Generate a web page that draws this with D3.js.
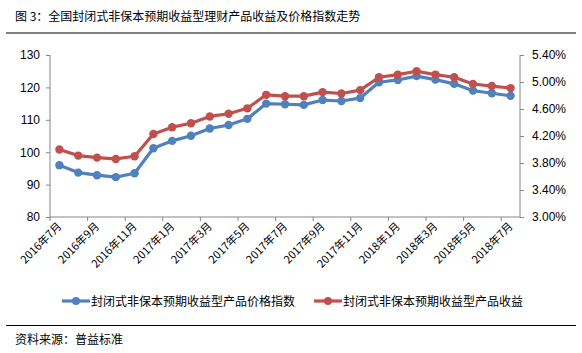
<!DOCTYPE html>
<html>
<head>
<meta charset="utf-8">
<script src="https://cdn.jsdelivr.net/npm/d3@7"></script>
<style>
  body { margin: 0; background: #fff; }
  svg { font-family: "Noto Sans CJK SC", "Noto Sans", sans-serif; }
  .axis path, .axis line { stroke: #868686; }
  .axis text { fill: #000; font-size: 12px; font-family: "Liberation Sans", Arial, sans-serif; }
</style>
</head>
<body>
<svg id="chart"></svg>
<script>
// categories (months)
const months = [
  "2016年7月", "2016年8月", "2016年9月", "2016年10月", "2016年11月", "2016年12月",
  "2017年1月", "2017年2月", "2017年3月", "2017年4月", "2017年5月", "2017年6月",
  "2017年7月", "2017年8月", "2017年9月", "2017年10月", "2017年11月", "2017年12月",
  "2018年1月", "2018年2月", "2018年3月", "2018年4月", "2018年5月", "2018年6月", "2018年7月"
];

// price index (left axis)
const priceIndex = [96.0, 93.7, 92.9, 92.3, 93.5, 101.2, 103.5, 105.1, 107.3, 108.4, 110.3, 115.0,
  114.8, 114.6, 116.1, 115.8, 116.7, 121.6, 122.3, 123.5, 122.4, 121.1, 119.0, 118.2, 117.4];

// yield, % (right axis)
const yieldPct = [4.00, 3.91, 3.88, 3.86, 3.90, 4.23, 4.33, 4.39, 4.49, 4.53, 4.61, 4.81,
  4.79, 4.79, 4.85, 4.83, 4.88, 5.07, 5.11, 5.16, 5.11, 5.07, 4.97, 4.94, 4.91];

const leftTicks = [80, 90, 100, 110, 120, 130];
const rightTicks = [3.0, 3.4, 3.8, 4.2, 4.6, 5.0, 5.4];

const seriesNames = ["封闭式非保本预期收益型产品价格指数", "封闭式非保本预期收益型产品收益"];
const colors = ["#4F81BD", "#C0504D"];

const W = 582, H = 353;
const plot = { left: 50, right: 520, top: 55, bottom: 217 };

const svg = d3.select("#chart").attr("width", W).attr("height", H);

// title + rules
svg.append("text")
    .attr("x", 15).attr("y", 21)
    .style("font-size", "12px")
    .style("fill", "#000")
    .text("图 3：全国封闭式非保本预期收益型理财产品收益及价格指数走势");
svg.append("line").attr("x1", 6).attr("x2", 576).attr("y1", 33).attr("y2", 33)
    .attr("stroke", "#000").attr("stroke-width", 1);
svg.append("line").attr("x1", 6).attr("x2", 576).attr("y1", 325.5).attr("y2", 325.5)
    .attr("stroke", "#000").attr("stroke-width", 1);
svg.append("text")
    .attr("x", 15).attr("y", 344)
    .style("font-size", "12px")
    .style("fill", "#000")
    .text("资料来源：普益标准");

// scales
const x = d3.scalePoint().domain(months).range([plot.left, plot.right]).padding(0.5);
const step = x.step();
const yL = d3.scaleLinear().domain([80, 130]).range([plot.bottom, plot.top]);
const yR = d3.scaleLinear().domain([3.0, 5.4]).range([plot.bottom, plot.top]);

// left axis
svg.append("g").attr("class", "axis")
    .attr("transform", `translate(${plot.left},0)`)
    .call(d3.axisLeft(yL).tickValues(leftTicks).tickSize(4).tickPadding(6))
    .call(g => g.select(".domain").attr("d", `M0,${plot.top}V${plot.bottom}`));

// right axis
svg.append("g").attr("class", "axis")
    .attr("transform", `translate(${plot.right},0)`)
    .call(d3.axisRight(yR).tickValues(rightTicks).tickSize(4).tickPadding(8)
        .tickFormat(d => d.toFixed(2) + "%"))
    .call(g => g.select(".domain").attr("d", `M0,${plot.top}V${plot.bottom}`));

// bottom axis: ticks on category boundaries, every 2 months
const xAxis = svg.append("g").attr("class", "axis");
xAxis.append("line")
    .attr("x1", plot.left).attr("x2", plot.right)
    .attr("y1", plot.bottom).attr("y2", plot.bottom);
const labelled = months.filter((d, i) => i % 2 === 0);
xAxis.selectAll(".xtick").data(labelled).enter().append("line")
    .attr("class", "xtick")
    .attr("x1", d => x(d) - step / 2).attr("x2", d => x(d) - step / 2)
    .attr("y1", plot.bottom).attr("y2", plot.bottom + 4);
xAxis.selectAll(".xlabel").data(labelled).enter().append("text")
    .attr("class", "xlabel")
    .attr("text-anchor", "end")
    .attr("transform", d => `translate(${x(d) + 3},${plot.bottom + 10}) rotate(-45)`)
    .style("font-family", "'Noto Sans CJK SC', sans-serif")
    .style("font-size", "11px")
    .text(d => d);

// lines
const series = [
    { values: priceIndex, y: yL },
    { values: yieldPct, y: yR }
];
series.forEach((s, si) => {
    const line = d3.line()
        .x((d, i) => x(months[i]))
        .y(d => s.y(d));
    svg.append("path")
        .datum(s.values)
        .attr("fill", "none")
        .attr("stroke", colors[si])
        .attr("stroke-width", 3.2)
        .attr("stroke-linejoin", "round")
        .attr("d", line);
    svg.append("g").selectAll("circle")
        .data(s.values).enter().append("circle")
        .attr("cx", (d, i) => x(months[i]))
        .attr("cy", d => s.y(d))
        .attr("r", 4.2)
        .attr("fill", colors[si]);
});

// legend
const legendX = [62, 314];
seriesNames.forEach((name, i) => {
    const g = svg.append("g").attr("transform", `translate(${legendX[i]},301)`);
    g.append("line").attr("x1", 0).attr("x2", 28).attr("y1", 0).attr("y2", 0)
        .attr("stroke", colors[i]).attr("stroke-width", 3.2);
    g.append("circle").attr("cx", 14).attr("cy", 0).attr("r", 4).attr("fill", colors[i]);
    g.append("text").attr("x", 29).attr("y", 4.5)
        .style("font-size", "12px").style("fill", "#000")
        .text(name);
});
</script>
</body>
</html>
